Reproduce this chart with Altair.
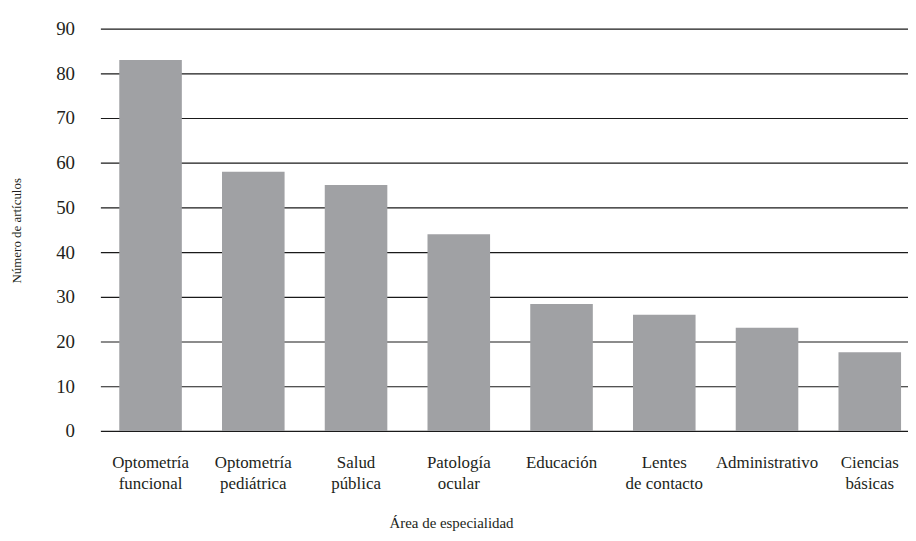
import altair as alt
import pandas as pd

categories = [
    "Optometría|funcional",
    "Optometría|pediátrica",
    "Salud|pública",
    "Patología|ocular",
    "Educación",
    "Lentes|de contacto",
    "Administrativo",
    "Ciencias|básicas",
]
articles = [83, 58, 55, 44, 28.4, 26, 23.1, 17.6]
y_ticks = [0, 10, 20, 30, 40, 50, 60, 70, 80, 90]

df = pd.DataFrame({"area": categories, "n": articles})

FONT = "Liberation Serif"
TXT = "#231f20"

chart = (
    alt.Chart(df)
    .mark_bar(color="#a0a1a4")
    .encode(
        x=alt.X(
            "area:N",
            sort=categories,
            scale=alt.Scale(paddingInner=0.391, paddingOuter=0.1257, align=0.731, round=False),
            axis=alt.Axis(
                title="Área de especialidad",
                labelExpr="split(datum.label, '|')",
                labelAngle=0,
                labelFont=FONT,
                labelFontSize=17,
                labelColor=TXT,
                labelLineHeight=21,
                labelBaseline="top",
                labelPadding=24,
                ticks=False,
                tickSize=0,
                domain=False,
                grid=False,
                titleFont=FONT,
                titleFontSize=15,
                titleFontWeight="normal",
                titleColor=TXT,
                titleX=353,
                titleY=97,
                titleAlign="center",
                titleBaseline="alphabetic",
                titleAnchor="start",
            ),
        ),
        y=alt.Y(
            "n:Q",
            scale=alt.Scale(domain=[0, 90], nice=False, zero=True),
            axis=alt.Axis(
                title="Número de artículos",
                values=y_ticks,
                labelFont=FONT,
                labelFontSize=19,
                labelColor=TXT,
                labelPadding=26,
                ticks=False,
                tickSize=0,
                domain=False,
                grid=True,
                gridColor="#1a1a1a",
                gridWidth=1.2,
                titleFont=FONT,
                titleFontSize=13,
                titleFontWeight="normal",
                titleColor=TXT,
                titleX=-84,
                titleY=203,
                titleAngle=270,
                titleAlign="center",
                titleBaseline="middle",
                titleAnchor="start",
            ),
        ),
    )
    .properties(
        width=813,
        height=405,
        autosize=alt.AutoSizeParams(type="none"),
        padding={"left": 93, "top": 19, "right": 0, "bottom": 101},
        background="white",
    )
    .configure_view(stroke=None)
)

chart.save("out.html", embed_options={"renderer": "svg", "actions": False})
